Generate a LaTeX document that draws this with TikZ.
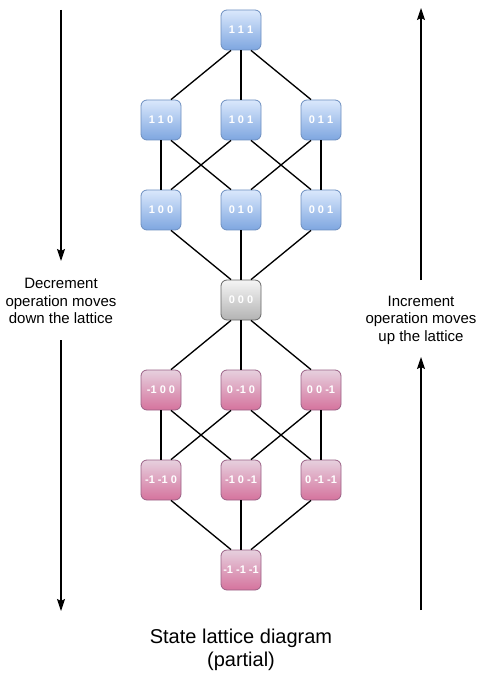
\documentclass[tikz,border=0pt]{standalone}
\usepackage{fontspec}
\setmainfont{Liberation Sans}
\usetikzlibrary{arrows.meta}
\definecolor{bluetop}{HTML}{DAE8FC}
\definecolor{bluebot}{HTML}{7EA6E0}
\definecolor{bluestroke}{HTML}{6C8EBF}
\definecolor{graytop}{HTML}{F5F5F5}
\definecolor{graybot}{HTML}{B3B3B3}
\definecolor{graystroke}{HTML}{666666}
\definecolor{pinktop}{HTML}{E6D0DE}
\definecolor{pinkbot}{HTML}{D5739D}
\definecolor{pinkstroke}{HTML}{996185}
\tikzset{
  statebox/.style={draw, rounded corners=4.5pt, minimum width=30pt, minimum height=30pt,
    inner sep=0pt, line width=0.6pt, text=white, font=\bfseries\fontsize{8.25}{9}\selectfont},
  bluebox/.style={statebox, draw=bluestroke, top color=bluetop, bottom color=bluebot},
  graybox/.style={statebox, draw=graystroke, top color=graytop, bottom color=graybot},
  pinkbox/.style={statebox, draw=pinkstroke, top color=pinktop, bottom color=pinkbot},
  edge/.style={draw=black, line width=1pt},
  arr/.style={draw=black, line width=0.8pt, -{Stealth[length=9pt,width=6pt,inset=1.5pt]}},
  sidetext/.style={align=center, font=\fontsize{11.25}{13.2}\selectfont},
}
\begin{document}
\begin{tikzpicture}[x=0.75pt,y=-0.75pt]
\useasboundingbox (0,0) rectangle (483,691);
% nodes
\node[bluebox] (n111) at (241,30) {1 1 1};
\node[bluebox] (n110) at (161,120) {1 1 0};
\node[bluebox] (n101) at (241,120) {1 0 1};
\node[bluebox] (n011) at (321,120) {0 1 1};
\node[bluebox] (n100) at (161,210) {1 0 0};
\node[bluebox] (n010) at (241,210) {0 1 0};
\node[bluebox] (n001) at (321,210) {0 0 1};
\node[graybox] (n000) at (241,300) {0 0 0};
\node[pinkbox] (m100) at (161,390) {-1 0 0};
\node[pinkbox] (m010) at (241,390) {0 -1 0};
\node[pinkbox] (m001) at (321,390) {0 0 -1};
\node[pinkbox] (m110) at (161,480) {-1 -1 0};
\node[pinkbox] (m101) at (241,480) {-1 0 -1};
\node[pinkbox] (m011) at (321,480) {0 -1 -1};
\node[pinkbox] (m111) at (241,570) {-1 -1 -1};
% edges top half
\draw[edge] ([xshift=-7.5pt]n111.south) -- ([xshift=7.5pt]n110.north);
\draw[edge] (n111.south) -- (n101.north);
\draw[edge] ([xshift=7.5pt]n111.south) -- ([xshift=-7.5pt]n011.north);
\draw[edge] (n110.south) -- (n100.north);
\draw[edge] ([xshift=7.5pt]n110.south) -- ([xshift=-7.5pt]n010.north);
\draw[edge] ([xshift=-7.5pt]n101.south) -- ([xshift=7.5pt]n100.north);
\draw[edge] ([xshift=7.5pt]n101.south) -- ([xshift=-7.5pt]n001.north);
\draw[edge] ([xshift=-7.5pt]n011.south) -- ([xshift=7.5pt]n010.north);
\draw[edge] (n011.south) -- (n001.north);
\draw[edge] ([xshift=7.5pt]n100.south) -- ([xshift=-7.5pt]n000.north);
\draw[edge] (n010.south) -- (n000.north);
\draw[edge] ([xshift=-7.5pt]n001.south) -- ([xshift=7.5pt]n000.north);
% edges bottom half
\draw[edge] ([xshift=-7.5pt]n000.south) -- ([xshift=7.5pt]m100.north);
\draw[edge] (n000.south) -- (m010.north);
\draw[edge] ([xshift=7.5pt]n000.south) -- ([xshift=-7.5pt]m001.north);
\draw[edge] (m100.south) -- (m110.north);
\draw[edge] ([xshift=7.5pt]m100.south) -- ([xshift=-7.5pt]m101.north);
\draw[edge] ([xshift=-7.5pt]m010.south) -- ([xshift=7.5pt]m110.north);
\draw[edge] ([xshift=7.5pt]m010.south) -- ([xshift=-7.5pt]m011.north);
\draw[edge] ([xshift=-7.5pt]m001.south) -- ([xshift=7.5pt]m101.north);
\draw[edge] (m001.south) -- (m011.north);
\draw[edge] ([xshift=7.5pt]m110.south) -- ([xshift=-7.5pt]m111.north);
\draw[edge] (m101.south) -- (m111.north);
\draw[edge] ([xshift=-7.5pt]m011.south) -- ([xshift=7.5pt]m111.north);
% side arrows
\coordinate (la1) at (61,10);
\coordinate (lb1) at (61,261);
\coordinate (la2) at (61,340);
\coordinate (lb2) at (61,611);
\coordinate (ra1) at (421,280);
\coordinate (rb1) at (421,8);
\coordinate (ra2) at (421,610);
\coordinate (rb2) at (421,357);
\draw[arr] (la1) -- (lb1);
\draw[arr] (la2) -- (lb2);
\draw[arr] (ra1) -- (rb1);
\draw[arr] (ra2) -- (rb2);
\node[sidetext] (dec) at (61,301) {Decrement\\operation moves\\down the lattice};
\node[sidetext] (inc) at (421,320) {Increment\\operation moves\\up the lattice};
\node[align=center, font=\fontsize{15}{17.25}\selectfont] (title) at (241,650) {State lattice diagram\\(partial)};
\end{tikzpicture}
\end{document}
